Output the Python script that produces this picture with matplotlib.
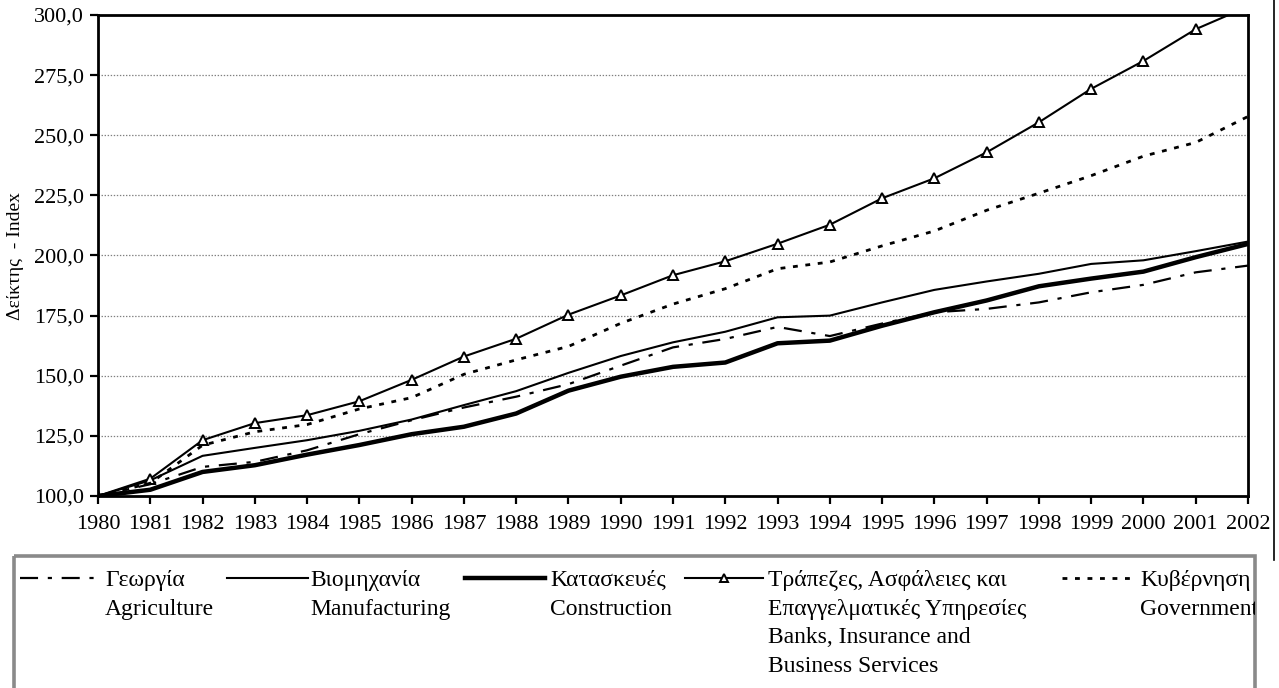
import matplotlib.pyplot as plt
from matplotlib.lines import Line2D
from matplotlib.patches import Rectangle

plt.rcParams['font.family'] = ['Liberation Serif', 'DejaVu Serif']
plt.rcParams['lines.scale_dashes'] = False

# index values, 1980 = 100
years = list(range(1980, 2003))
agriculture = [100, 104.9, 112.1, 114.2, 119.0, 125.7, 131.5, 136.8, 141.3, 146.5, 154.2, 161.8,
               165.3, 170.3, 166.5, 171.7, 176.4, 177.8, 180.5, 184.7, 187.8, 193.0, 195.8]
manufacturing = [100, 106.5, 116.7, 120.0, 123.2, 127.1, 131.8, 137.8, 143.6, 151.2, 158.2, 163.9,
                 168.3, 174.3, 175.0, 180.5, 185.7, 189.2, 192.4, 196.5, 198.0, 201.8, 205.8]
construction = [100, 102.6, 110.0, 112.8, 117.2, 121.2, 125.7, 128.8, 134.3, 143.8, 149.6, 153.7,
                155.5, 163.5, 164.6, 170.8, 176.4, 181.3, 187.2, 190.4, 193.3, 199.3, 204.8]
banks = [100, 107.2, 123.2, 130.3, 133.6, 139.4, 148.3, 158.0, 165.4, 175.4, 183.4, 191.8,
         197.6, 204.9, 212.8, 223.8, 232.1, 242.9, 255.4, 269.3, 280.9, 294.1, 303.5]
government = [100, 105.3, 121.1, 126.7, 129.7, 136.2, 140.9, 150.6, 156.6, 162.2, 171.8, 179.8,
              186.2, 194.5, 197.3, 204.0, 210.2, 218.8, 225.9, 233.2, 241.3, 247.0, 257.8]

y_ticks = [100, 125, 150, 175, 200, 225, 250, 275, 300]
y_label = 'Δείκτης  - Index'
labels = [
    ['Γεωργία', 'Agriculture'],
    ['Βιομηχανία', 'Manufacturing'],
    ['Κατασκευές', 'Construction'],
    ['Τράπεζες, Ασφάλειες και', 'Επαγγελματικές Υπηρεσίες', 'Banks, Insurance and', 'Business Services'],
    ['Κυβέρνηση', 'Government'],
]

styles = [
    dict(color='black', lw=1.6, linestyle=(0, (13, 7, 3, 7))),
    dict(color='black', lw=1.5, linestyle='-'),
    dict(color='black', lw=3.2, linestyle='-'),
    dict(color='black', lw=1.5, linestyle='-', marker='^', markersize=7,
         markerfacecolor='white', markeredgecolor='black', markeredgewidth=1.4),
    dict(color='black', lw=2.0, linestyle=(0, (3.5, 5.5))),
]
series = [agriculture, manufacturing, construction, banks, government]

W, H = 1279, 688
fig = plt.figure(figsize=(W / 100, H / 100), dpi=100)
ax = fig.add_axes([98 / W, 1 - 496 / H, (1248 - 98) / W, (496 - 15) / H])

for vals, st in zip(series, styles):
    ax.plot(years, vals, **st)

ax.set_xlim(1980, 2002)
ax.set_ylim(100, 300)
ax.set_xticks(years)
ax.set_xticklabels([str(y) for y in years], fontsize=16)
ax.set_yticks(y_ticks)
ax.set_yticklabels([f'{v:.1f}'.replace('.', ',') for v in y_ticks], fontsize=16)
ax.tick_params(axis='both', direction='out', length=6, width=1.6)
ax.tick_params(axis='x', pad=8)
ax.tick_params(axis='y', pad=4)
ax.yaxis.grid(True, color='#808080', linestyle=(0, (1, 1.2)), lw=0.9)
for s in ax.spines.values():
    s.set_linewidth(2.0)

# legend drawn by hand in pixel coordinates, like the excel box
lax = fig.add_axes([0, 0, 1, 1], facecolor='none')
lax.set_xlim(0, W)
lax.set_ylim(H, 0)
lax.axis('off')
lax.text(16, 256, y_label, fontsize=14, rotation=90, ha='center', va='center')
box = Rectangle((14, 556), 1241, 150, fill=False, edgecolor='#8a8a8a', lw=2.6, clip_on=False)
lax.add_patch(box)
lax.plot([1274, 1274], [0, 560], color='black', lw=1.2)

handle_x = [(20, 97), (227, 308), (465, 545), (685, 763), (1062, 1136)]
text_x = [105, 310, 550, 768, 1140]
for (x0, x1), tx, st, lab in zip(handle_x, text_x, styles, labels):
    hst = dict(st)
    hst.pop('marker', None)
    lax.add_line(Line2D([x0, x1], [578, 578], **hst))
    if 'marker' in st:
        lax.plot([(x0 + x1) / 2], [578], marker='^', markersize=6, markerfacecolor='white',
                 markeredgecolor='black', markeredgewidth=1.4, linestyle='none')
    for i, t in enumerate(lab):
        txt = lax.text(tx, 586 + i * 28.7, t, fontsize=17, ha='left', va='baseline', clip_on=True)
        txt.set_clip_path(box)

fig.savefig('out.png', dpi=100)
